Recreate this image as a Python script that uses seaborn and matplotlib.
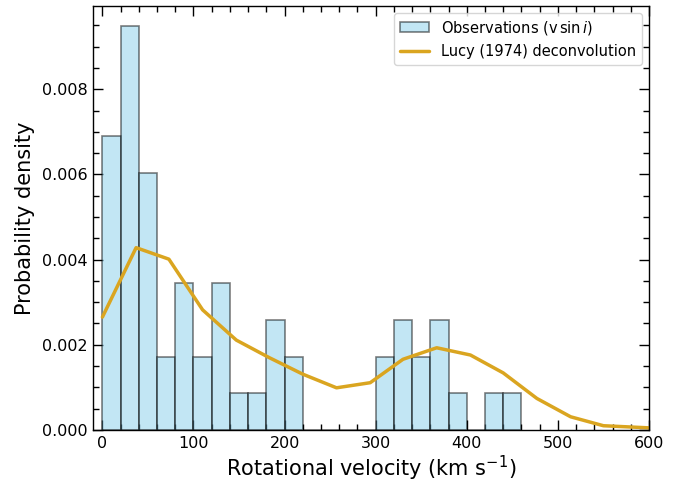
import numpy as np
import pandas as pd
import matplotlib
matplotlib.use("Agg")
import matplotlib.pyplot as plt
from matplotlib.ticker import MultipleLocator, FormatStrFormatter
import seaborn as sns

# Observed v sin i sample, binned in 20 km/s bins (bin centres and star counts)
bin_edges = list(range(0, 480, 20))
bin_centres = [10, 30, 50, 70, 90, 110, 130, 150, 170, 190, 210, 230, 250, 270,
               290, 310, 330, 350, 370, 390, 410, 430, 450]
star_counts = [8, 11, 7, 2, 4, 2, 4, 1, 1, 3, 2, 0, 0, 0,
               0, 2, 3, 2, 3, 1, 0, 1, 1]

# Lucy (1974) deconvolved equatorial velocity distribution
lucy_velocity = [0, 37, 73, 110, 147, 183, 220, 257, 294, 330, 367, 404,
                 440, 477, 514, 550, 600]
lucy_density = [0.00265, 0.00428, 0.00401, 0.00282, 0.00211, 0.00170, 0.00131,
                0.00099, 0.00111, 0.00166, 0.00193, 0.00176, 0.00134, 0.00074,
                0.00031, 0.00010, 0.00005]

obs = pd.DataFrame({"v": bin_centres, "n": star_counts})
lucy = pd.DataFrame({"v": lucy_velocity, "p": lucy_density})

sns.set_style("ticks")
plt.rcParams["font.family"] = ["DejaVu Sans"]
for key in ("text.color", "axes.labelcolor", "xtick.color", "ytick.color",
            "axes.edgecolor"):
    plt.rcParams[key] = "black"

fig = plt.figure(figsize=(6.86, 4.84), dpi=100)
ax = fig.add_axes([0.136, 0.1116, 0.81, 0.8766])

sns.histplot(data=obs, x="v", weights="n", bins=bin_edges,
             stat="density", color="skyblue", edgecolor=(0, 0, 0, 0.5),
             alpha=0.5, linewidth=1.2, ax=ax,
             label=r"Observations (v$\,\sin i$)")
sns.lineplot(data=lucy, x="v", y="p", color="goldenrod", linewidth=2.5,
             ax=ax, label="Lucy (1974) deconvolution")

ax.set_xlim(-10, 600)
ax.set_ylim(0, 0.00996)
ax.xaxis.set_major_locator(MultipleLocator(100))
ax.xaxis.set_minor_locator(MultipleLocator(20))
ax.yaxis.set_major_locator(MultipleLocator(0.002))
ax.yaxis.set_minor_locator(MultipleLocator(0.0005))
ax.yaxis.set_major_formatter(FormatStrFormatter("%.3f"))
ax.tick_params(which="both", direction="in", top=True, right=True,
               labelsize=11.5, color="black", labelcolor="black")
ax.tick_params(which="major", length=7, width=1, pad=4)
ax.tick_params(which="minor", length=4, width=1)
for sp in ax.spines.values():
    sp.set_color("black")
    sp.set_linewidth(1)

ax.set_xlabel(r"Rotational velocity (km s$^{-1}$)", fontsize=15, labelpad=2)
ax.set_ylabel("Probability density", fontsize=15, labelpad=5)

handles, labels = ax.get_legend_handles_labels()
order = [labels.index(l) for l in (r"Observations (v$\,\sin i$)",
                                    "Lucy (1974) deconvolution")]
ax.legend([handles[i] for i in order], [labels[i] for i in order],
          loc="upper right", fontsize=10.5, frameon=True)

fig.savefig("out.png", dpi=100)
